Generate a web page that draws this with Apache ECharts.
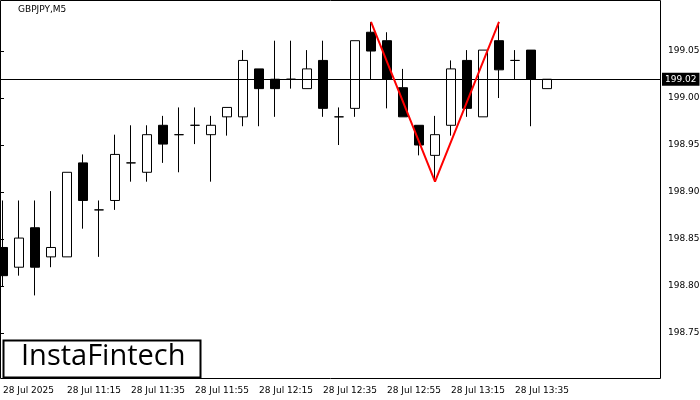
<!DOCTYPE html>
<html>
<head>
<meta charset="utf-8">
<script src="https://cdn.jsdelivr.net/npm/echarts@6/dist/echarts.min.js"></script>
<style>
  html, body { margin: 0; padding: 0; background: #fff; }
  #chart { width: 700px; height: 400px; }
</style>
</head>
<body>
<div id="chart"></div>
<script>
// GBPJPY M5, свечи [open, close, low, high]
var candles = [
    [198.841, 198.811, 198.800, 198.891],
    [198.820, 198.851, 198.811, 198.891],
    [198.862, 198.820, 198.790, 198.891],
    [198.831, 198.841, 198.820, 198.901],
    [198.831, 198.921, 198.831, 198.921],
    [198.931, 198.891, 198.861, 198.940],
    [198.881, 198.881, 198.831, 198.891],
    [198.891, 198.940, 198.881, 198.961],
    [198.931, 198.931, 198.911, 198.971],
    [198.921, 198.961, 198.911, 198.971],
    [198.971, 198.951, 198.931, 198.981],
    [198.961, 198.961, 198.921, 198.990],
    [198.971, 198.971, 198.951, 198.990],
    [198.961, 198.971, 198.911, 198.981],
    [198.980, 198.990, 198.960, 198.990],
    [198.980, 199.040, 198.970, 199.051],
    [199.031, 199.010, 198.970, 199.031],
    [199.020, 199.010, 198.980, 199.061],
    [199.020, 199.020, 199.010, 199.061],
    [199.010, 199.031, 199.010, 199.051],
    [199.040, 198.989, 198.980, 199.061],
    [198.980, 198.980, 198.950, 198.990],
    [198.989, 199.061, 198.980, 199.061],
    [199.070, 199.050, 199.020, 199.081],
    [199.061, 199.020, 198.989, 199.070],
    [199.011, 198.980, 198.980, 199.031],
    [198.971, 198.950, 198.939, 198.971],
    [198.939, 198.961, 198.911, 198.981],
    [198.971, 199.031, 198.960, 199.040],
    [199.040, 198.989, 198.980, 199.051],
    [198.980, 199.051, 198.980, 199.051],
    [199.061, 199.030, 199.000, 199.081],
    [199.040, 199.040, 199.020, 199.051],
    [199.051, 199.020, 198.970, 199.051],
    [199.010, 199.020, 199.010, 199.020]
];
// фигура "двойное дно": индекс свечи -> цена
var patternIdx = [23, 27, 31];
var patternVal = [199.081, 198.911, 199.081];
var lastPrice = 199.02;
var yTicks = [198.75, 198.80, 198.85, 198.90, 198.95, 199.00, 199.05];
var xLabelMap = {0: '28 Jul 2025', 4: '28 Jul 11:15', 8: '28 Jul 11:35', 12: '28 Jul 11:55',
    16: '28 Jul 12:15', 20: '28 Jul 12:35', 24: '28 Jul 12:55', 28: '28 Jul 13:15', 32: '28 Jul 13:35'};
var nSlots = 41;

(function () {
    var myChart = echarts.init(document.getElementById('chart'));

    var cats = [];
    for (var i = 0; i < nSlots; i++) cats.push(String(i));
    var pattern = cats.map(function () { return null; });
    patternIdx.forEach(function (k, j) { pattern[k] = patternVal[j]; });

    var font = 'DejaVu Sans';
    var option = {
        animation: false,
        textStyle: { fontFamily: font },
        grid: [
            { left: -5, right: 49, top: 0, bottom: 20, outerBoundsMode: 'none' },
            { left: 0, right: 40, top: 0, bottom: 20, outerBoundsMode: 'none' }
        ],
        xAxis: [
            {
                type: 'category', data: cats, gridIndex: 0, boundaryGap: true,
                axisLine: { show: false }, axisTick: { show: false },
                axisLabel: {
                    interval: 0, align: 'left', margin: 6, fontSize: 9, color: '#000',
                    fontFamily: font,
                    formatter: function (v) { return xLabelMap[v] || ''; }
                },
                splitLine: { show: false }
            },
            { type: 'value', gridIndex: 1, show: false, min: 0, max: 1 }
        ],
        yAxis: [
            { type: 'value', gridIndex: 0, min: 198.70, max: 199.1043, show: false },
            {
                type: 'value', gridIndex: 1, position: 'right', min: 198.70, max: 199.1043,
                axisLine: { show: false }, splitLine: { show: false },
                axisLabel: {
                    color: '#000', fontSize: 9, margin: 8, fontFamily: font,
                    customValues: yTicks,
                    formatter: function (v) { return v.toFixed(2); }
                },
                axisTick: { show: true, customValues: yTicks, length: 4, lineStyle: { color: '#000' } }
            }
        ],
        series: [
            {
                type: 'candlestick', xAxisIndex: 0, yAxisIndex: 0, data: candles,
                barWidth: 10,
                itemStyle: { color: '#fff', color0: '#000', borderColor: '#000', borderColor0: '#000', borderWidth: 1 }
            },
            {
                type: 'line', xAxisIndex: 0, yAxisIndex: 0, data: pattern, connectNulls: true,
                symbol: 'none', lineStyle: { color: '#ff0000', width: 2 }, z: 5
            },
            {
                type: 'line', xAxisIndex: 1, yAxisIndex: 1, data: [], symbol: 'none',
                markLine: {
                    symbol: 'none', silent: true,
                    lineStyle: { color: '#000', width: 1, type: 'solid' },
                    label: {
                        position: 'end', formatter: lastPrice.toFixed(2), color: '#fff',
                        backgroundColor: '#000', padding: [2, 3], fontSize: 9, distance: 2
                    },
                    data: [{ yAxis: lastPrice }]
                }
            }
        ],
        graphic: [
            { type: 'rect', shape: { x: 0.5, y: 0.5, width: 660, height: 378 }, style: { fill: null, stroke: '#000', lineWidth: 1 }, silent: true },
            { type: 'text', left: 18, top: 5, style: { text: 'GBPJPY,M5', fontSize: 9, fill: '#000', fontFamily: font } },
            { type: 'rect', shape: { x: 3.5, y: 340.5, width: 197, height: 37 }, style: { fill: '#fff', stroke: '#000', lineWidth: 2 }, z: 10 },
            { type: 'text', left: 21, top: 342, z: 11, style: { text: 'InstaFintech', fontSize: 29, fill: '#000', fontFamily: 'Open Sans' } }
        ]
    };
    myChart.setOption(option);

    window.addEventListener('resize', function () {
        myChart.resize();
    });
})();
</script>
</body>
</html>
